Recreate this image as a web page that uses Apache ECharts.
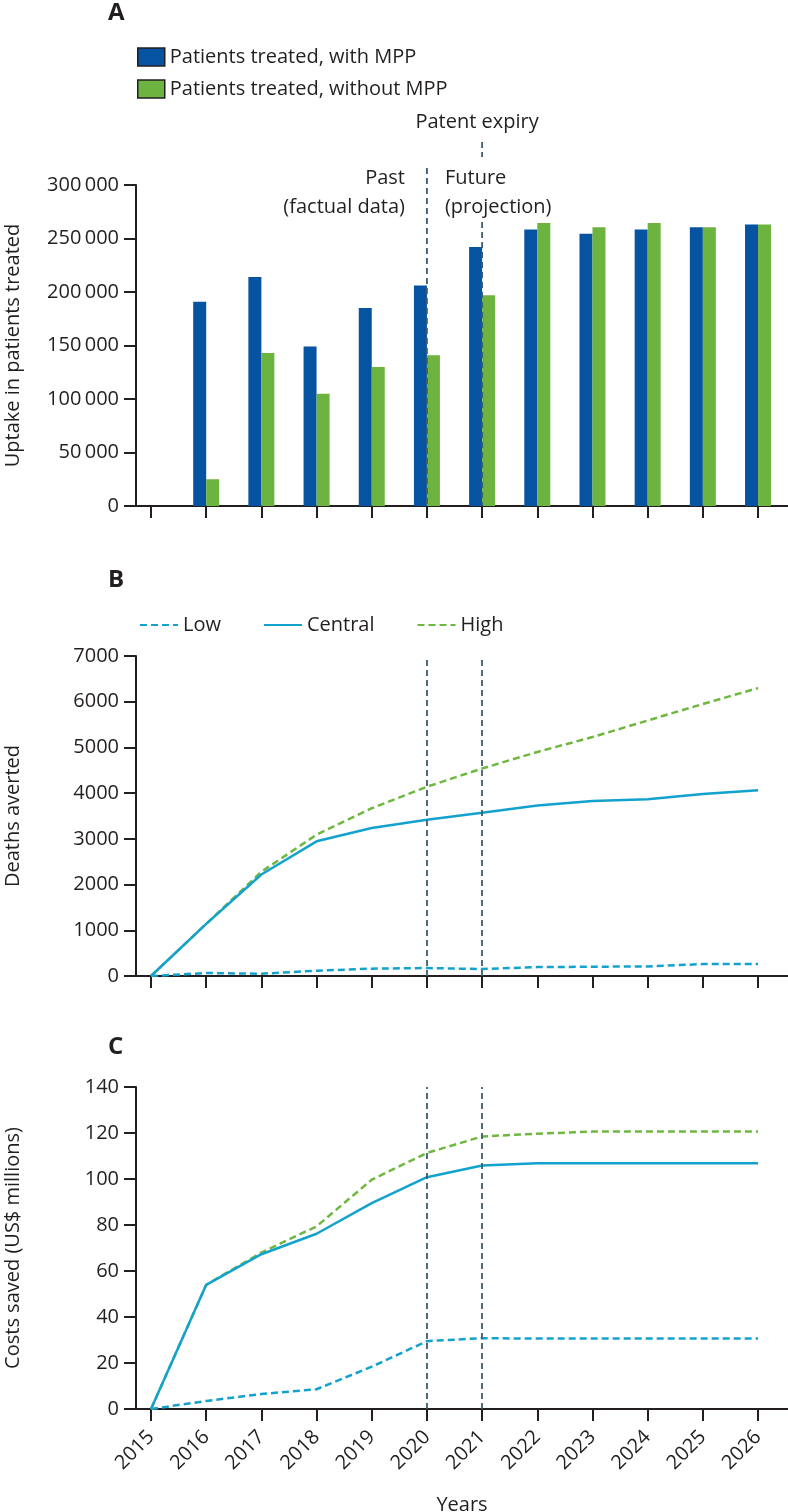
<!DOCTYPE html>
<html><head><meta charset="utf-8">
<script src="https://cdn.jsdelivr.net/npm/echarts@6/dist/echarts.min.js"></script>
<style>html,body{margin:0;padding:0;background:#fff}#c{width:788px;height:1512px}</style>
</head><body><div id="c"></div>
<script>
// ---------- data ----------
const years = [2015, 2016, 2017, 2018, 2019, 2020, 2021, 2022, 2023, 2024, 2025, 2026];
const markerYears = [2020, 2021];
const withMPP    = [null, 191000, 214000, 149000, 185000, 206000, 242000, 258500, 254500, 258500, 260500, 263000];
const withoutMPP = [null,  25000, 143000, 105000, 130000, 141000, 197000, 264500, 260500, 264500, 260500, 263000];
const deathsLow     = [0,   65,   50,  116,  160,  174,  152,  195,  203,  210,  260,  260];
const deathsCentral = [0, 1140, 2220, 2946, 3236, 3417, 3569, 3728, 3829, 3866, 3981, 4061];
const deathsHigh    = [0, 1140, 2280, 3091, 3670, 4140, 4539, 4901, 5227, 5589, 5950, 6298];
const costsLow     = [0,  3.5,  6.5,  8.6, 18.4,  29.5,  30.8,  30.6,  30.6,  30.6,  30.6,  30.6];
const costsCentral = [0, 54.0, 67.3, 76.2, 89.5, 100.8, 105.9, 106.8, 106.9, 106.9, 106.9, 106.9];
const costsHigh    = [0, 54.0, 68.0, 79.4, 99.7, 111.3, 118.5, 119.7, 120.6, 120.6, 120.6, 120.6];
const yTicksA = {min: 0, max: 300000, interval: 50000};
const yTicksB = {min: 0, max: 7000, interval: 1000};
const yTicksC = {min: 0, max: 140, interval: 20};

// ---------- style ----------
const FONT = "'Open Sans', 'Noto Sans', sans-serif";
const INK = '#231f20';
const BLUE = '#0553a1', GREEN = '#6db33f';
const CYAN = '#12a2cd', HIGHGREEN = '#6fb840';
const VLINE = '#3e5c6c';
const pair = arr => years.map((y, i) => [y, arr[i]]);
const spaced = v => (v >= 10000 ? String(v).replace(/\B(?=(\d{3})+(?!\d))/g, '\u2009') : String(v));

const gridX = {left: 136, right: 0, containLabel: false, outerBoundsMode: 'none'};
const grids = [
  Object.assign({top: 185, height: 321}, gridX),
  Object.assign({top: 656, height: 320}, gridX),
  Object.assign({top: 1087, height: 322}, gridX)
];
const xMin = 2014.728, xMax = 2026.543;

function xAxis(gi, withLabels) {
  return {
    type: 'value', gridIndex: gi, min: xMin, max: xMax,
    splitLine: {show: false},
    axisLine: {show: true, onZero: false, lineStyle: {color: INK, width: 2}},
    axisTick: {show: true, length: 12, customValues: years, lineStyle: {color: INK, width: 2}},
    axisLabel: withLabels ? {
      show: true, customValues: years, rotate: 45, margin: 25,
      formatter: v => String(Math.round(v)), color: INK, fontSize: 20, fontFamily: FONT
    } : {show: false},
    name: withLabels ? 'Years' : '', nameLocation: 'middle', nameGap: 86,
    nameTextStyle: {color: INK, fontSize: 20, fontFamily: FONT}
  };
}
function yAxis(gi, t, name, fmt) {
  return {
    type: 'value', gridIndex: gi, min: t.min, max: t.max, interval: t.interval,
    splitLine: {show: false},
    axisLine: {show: true, lineStyle: {color: INK, width: 2}},
    axisTick: {show: true, length: 12, lineStyle: {color: INK, width: 2}},
    axisLabel: {color: INK, fontSize: 20, fontFamily: FONT, margin: 17, formatter: fmt},
    name: name, nameLocation: 'middle', nameGap: 113,
    nameTextStyle: {color: INK, fontSize: 20, fontFamily: FONT}
  };
}

const vDash = {color: VLINE, width: 1.8, type: [6, 4]};
const markLines = {
  symbol: 'none', silent: true, label: {show: false},
  lineStyle: vDash,
  data: markerYears.map(y => ({xAxis: y}))
};

function lineSeries(name, gi, arr, color, dashed, withMark) {
  const s = {
    name: name, type: 'line', xAxisIndex: gi, yAxisIndex: gi,
    data: pair(arr), symbol: 'none', showSymbol: false,
    lineStyle: {color: color, width: 2.5, type: dashed ? [7, 4] : 'solid'},
    itemStyle: {color: color, opacity: 0}, z: name === 'Central' ? 3 : 2
  };
  if (withMark) s.markLine = markLines;
  return s;
}

const annotSeries = {
  type: 'custom', xAxisIndex: 0, yAxisIndex: 0, clip: false, z: 10, silent: true,
  data: markerYears.map(y => [y, 0]),
  renderItem: function (params, api) {
    const yr = api.value(0);
    const bottom = api.coord([yr, yTicksA.min]);
    const top = api.coord([yr, yTicksA.max]);
    const x = bottom[0];
    const ls = {stroke: VLINE, lineWidth: 1.8, lineDash: [6, 4], fill: null};
    const ts = (t, tx, ty, align) => ({type: 'text', style: {text: t, x: tx, y: ty, align: align, verticalAlign: 'middle', fill: INK, font: '20px ' + FONT}});
    if (params.dataIndex === 0) {
      return {type: 'group', children: [
        {type: 'line', shape: {x1: x, y1: top[1] - 17, x2: x, y2: bottom[1]}, style: ls},
        ts('Past', x - 22, top[1] - 7, 'right'),
        ts('(factual data)', x - 22, top[1] + 22, 'right'),
        ts('Future', x + 18, top[1] - 7, 'left'),
        ts('(projection)', x + 18, top[1] + 22, 'left')
      ]};
    }
    return {type: 'group', children: [
      {type: 'line', shape: {x1: x, y1: top[1] + 37, x2: x, y2: bottom[1]}, style: ls},
      {type: 'line', shape: {x1: x, y1: top[1] - 43, x2: x, y2: top[1] - 28}, style: ls},
      ts('Patent expiry', x - 5, top[1] - 63, 'center')
    ]};
  }
};

const titleStyle = {fontSize: 24, fontWeight: 'bold', color: INK, fontFamily: FONT};
const option = {
  animation: false,
  backgroundColor: '#fff',
  textStyle: {fontFamily: FONT, color: INK},
  title: [
    {text: 'A', left: 103, top: -4, textStyle: titleStyle},
    {text: 'B', left: 103, top: 563, textStyle: titleStyle},
    {text: 'C', left: 103, top: 1030, textStyle: titleStyle}
  ],
  legend: [
    {
      data: ['Patients treated, with MPP', 'Patients treated, without MPP'],
      orient: 'vertical', left: 132, top: 42, itemWidth: 27, itemHeight: 18, itemGap: 12,
      icon: 'rect', selectedMode: false,
      itemStyle: {borderColor: INK, borderWidth: 1.5},
      textStyle: {fontSize: 20, color: INK, fontFamily: FONT}
    },
    {
      data: ['Low', 'Central', 'High'],
      orient: 'horizontal', left: 134, top: 610, itemWidth: 38, itemHeight: 14, itemGap: 42,
      selectedMode: false,
      itemStyle: {opacity: 0},
      textStyle: {fontSize: 20, color: INK, fontFamily: FONT}
    }
  ],
  grid: grids,
  xAxis: [xAxis(0, false), xAxis(1, false), xAxis(2, true)],
  yAxis: [
    yAxis(0, yTicksA, 'Uptake in patients treated', spaced),
    yAxis(1, yTicksB, 'Deaths averted', v => String(v)),
    yAxis(2, yTicksC, 'Costs saved (US$ millions)', v => String(v))
  ],
  series: [
    {name: 'Patients treated, with MPP', type: 'bar', xAxisIndex: 0, yAxisIndex: 0,
     data: pair(withMPP), barWidth: 13, barGap: '0%', itemStyle: {color: BLUE}},
    {name: 'Patients treated, without MPP', type: 'bar', xAxisIndex: 0, yAxisIndex: 0,
     data: pair(withoutMPP), barWidth: 13, barGap: '0%', itemStyle: {color: GREEN}},
    annotSeries,
    lineSeries('Low', 1, deathsLow, CYAN, true, false),
    lineSeries('Central', 1, deathsCentral, CYAN, false, true),
    lineSeries('High', 1, deathsHigh, HIGHGREEN, true, false),
    lineSeries('Low', 2, costsLow, CYAN, true, false),
    lineSeries('Central', 2, costsCentral, CYAN, false, true),
    lineSeries('High', 2, costsHigh, HIGHGREEN, true, false)
  ]
};
const chart = echarts.init(document.getElementById('c'), null, {renderer: 'canvas'});
chart.setOption(option);
</script>
</body></html>
